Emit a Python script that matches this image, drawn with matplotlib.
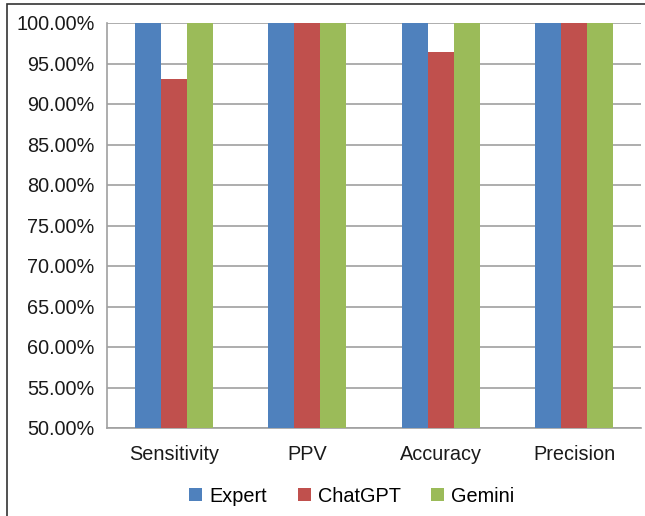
import matplotlib
matplotlib.use("Agg")
import matplotlib.pyplot as plt
import numpy as np
from matplotlib.patches import Rectangle
from matplotlib.ticker import FuncFormatter

categories = ["Sensitivity", "PPV", "Accuracy", "Precision"]
series_names = ["Expert", "ChatGPT", "Gemini"]
expert = [100.0, 100.0, 100.0, 100.0]
chatgpt = [93.1, 100.0, 96.4, 100.0]
gemini = [100.0, 100.0, 100.0, 100.0]
colors = ["#4F81BD", "#C0504D", "#9BBB59"]

plt.rcParams['font.family'] = ['Liberation Sans', 'DejaVu Sans']

fig = plt.figure(figsize=(6.45, 5.16), dpi=100)
ax = fig.add_axes([107/645, 1-428/516, (641-107)/645, (428-23)/516])

x = np.arange(len(categories))
w = 0.195
for i, (vals, c, name) in enumerate(zip([expert, chatgpt, gemini], colors, series_names)):
    ax.bar(x + (i-1)*w, vals, width=w, color=c, label=name, zorder=3)

ax.set_xlim(-0.5, len(categories)-0.5)
ax.set_ylim(50, 100)
ax.set_yticks(np.arange(50, 100.1, 5))
ax.yaxis.set_major_formatter(FuncFormatter(lambda v, p: f"{v:.2f}%"))
ax.set_xticks(x)
ax.set_xticklabels(categories)
ax.tick_params(axis='both', length=0, labelsize=14.3, colors='#1a1a1a')
ax.tick_params(axis='x', pad=12)
ax.tick_params(axis='y', pad=9)
ax.yaxis.grid(True, color='#a0a0a0', linewidth=1.2, zorder=0)
for s in ['top', 'right']:
    ax.spines[s].set_visible(False)
for s in ['left', 'bottom']:
    ax.spines[s].set_color('#a0a0a0')
    ax.spines[s].set_linewidth(1.2)

leg = fig.legend(loc='center', bbox_to_anchor=(352/645, 1-496/516), ncol=3, frameon=False,
                 fontsize=14.3, handlelength=0.65, handleheight=0.65, columnspacing=1.55, handletextpad=0.35)

fig.patches.append(Rectangle((7/645, -0.1), 1.2, 1-4/516+0.1, transform=fig.transFigure,
                             fill=False, edgecolor='#333333', linewidth=1.2))

fig.savefig("out.png", dpi=100)
